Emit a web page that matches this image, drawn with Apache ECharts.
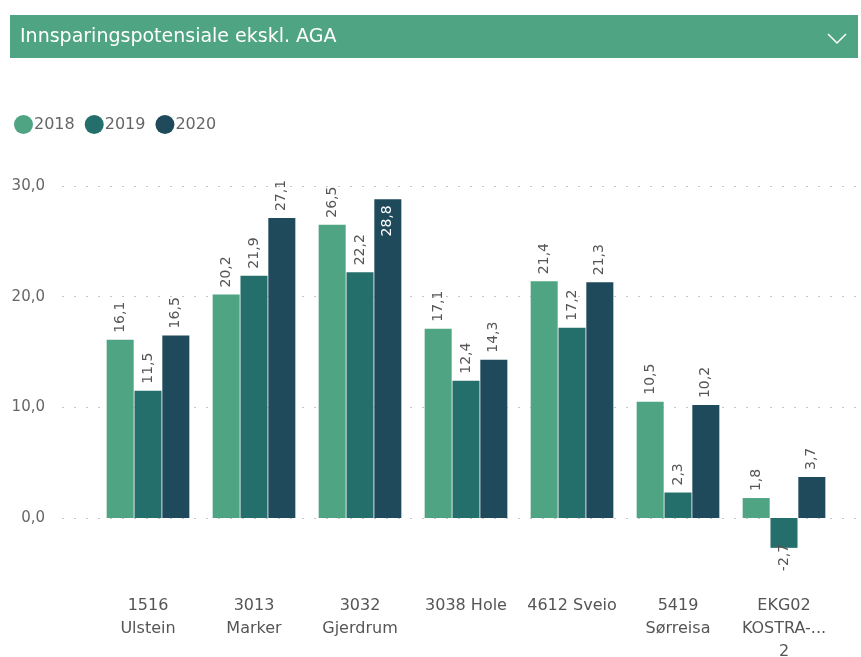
<!DOCTYPE html>
<html lang="no">
<head>
    <meta charset="UTF-8">
    <title>Innsparingspotensiale ekskl. AGA</title>
    <script src="https://cdn.jsdelivr.net/npm/echarts@6/dist/echarts.min.js"></script>
    <style>
        html, body { margin: 0; padding: 0; background: #fff; }
        #chart { width: 861px; height: 657px; }
    </style>
</head>
<body>
    <div id="chart"></div>
    <script>
        const categories = ['1516\nUlstein', '3013\nMarker', '3032\nGjerdrum', '3038 Hole', '4612 Sveio', '5419\nSørreisa', 'EKG02\nKOSTRA-...\n2'];
        const years = ['2018', '2019', '2020'];
        const values2018 = [16.1, 20.2, 26.5, 17.1, 21.4, 10.5, 1.8];
        const values2019 = [11.5, 21.9, 22.2, 12.4, 17.2, 2.3, -2.7];
        const values2020 = [16.5, 27.1, 28.8, 14.3, 21.3, 10.2, 3.7];
        const colors = ['#4fa483', '#246f6b', '#1e4a5b'];

        const fontFamily = "'DejaVu Sans', sans-serif";
        const fmt = v => v.toFixed(1).replace('.', ',');

        // label above the bar, or inside when it would run off the top, or below when negative
        function makeData(values) {
            return values.map(v => {
                if (v < 0) {
                    return { value: v, label: { position: 'bottom', align: 'right', distance: -4 } };
                }
                if (v > 28) {
                    return { value: v, label: { position: 'insideTop', align: 'right', distance: 6, color: '#fff' } };
                }
                return v;
            });
        }

        const chart = echarts.init(document.getElementById('chart'));

        const option = {
            animation: false,
            textStyle: { fontFamily: fontFamily },
            color: colors,
            graphic: [
                {
                    type: 'rect',
                    shape: { x: 10, y: 15, width: 848, height: 43 },
                    style: { fill: '#4fa483' }
                },
                {
                    type: 'text',
                    x: 20, y: 37,
                    style: {
                        text: 'Innsparingspotensiale ekskl. AGA',
                        fill: '#fff',
                        font: "19px " + fontFamily,
                        verticalAlign: 'middle'
                    }
                },
                {
                    type: 'polyline',
                    shape: { points: [[828, 34], [837, 43], [846, 34]] },
                    style: { stroke: '#fff', lineWidth: 1.5, fill: null }
                }
            ],
            legend: {
                left: 9,
                top: 110,
                icon: 'circle',
                itemWidth: 19,
                itemHeight: 19,
                itemGap: 10,
                data: years,
                textStyle: { fontSize: 16, color: '#666', padding: [0, 0, 0, -4] }
            },
            grid: [
                { left: 95, right: 24, top: 186, height: 387.3, outerBoundsMode: 'none' },
                { left: 62, right: 3, top: 186, height: 332, outerBoundsMode: 'none' }
            ],
            xAxis: [
                {
                    type: 'category',
                    gridIndex: 0,
                    data: categories,
                    axisLine: { show: false, onZero: false },
                    axisTick: { show: false },
                    axisLabel: { interval: 0, hideOverlap: false, color: '#555', fontSize: 16, lineHeight: 23, margin: 21 }
                },
                {
                    type: 'value',
                    gridIndex: 1,
                    min: 0, max: 1,
                    show: false
                }
            ],
            yAxis: [
                {
                    type: 'value',
                    gridIndex: 0,
                    min: -5, max: 30,
                    show: false
                },
                {
                    type: 'value',
                    gridIndex: 1,
                    min: 0, max: 30, interval: 10,
                    axisLine: { show: false },
                    axisTick: { show: false },
                    axisLabel: { color: '#666', fontSize: 15, margin: 17, formatter: v => fmt(v) },
                    splitLine: { lineStyle: { color: '#c8c8c8', type: [2, 10], width: 1.2 } }
                }
            ],
            series: [values2018, values2019, values2020].map((vals, i) => ({
                name: years[i],
                type: 'bar',
                xAxisIndex: 0,
                yAxisIndex: 0,
                barGap: '3%',
                barCategoryGap: '22%',
                data: makeData(vals),
                label: {
                    show: true,
                    position: 'top',
                    rotate: 90,
                    align: 'left',
                    verticalAlign: 'middle',
                    distance: 7,
                    color: '#555',
                    fontSize: 14,
                    formatter: p => fmt(p.value)
                }
            }))
        };

        chart.setOption(option);
    </script>
</body>
</html>
